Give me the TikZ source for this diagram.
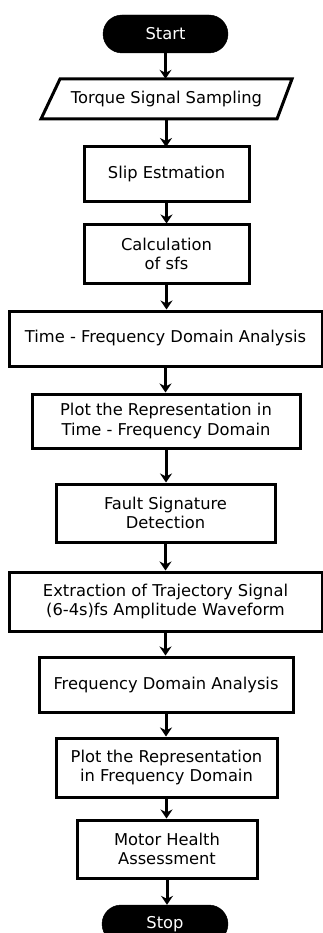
\documentclass[tikz,border=0pt]{standalone}
\usepackage{fontspec}
\setmainfont{DejaVu Sans}
\usetikzlibrary{arrows.meta}
\begin{document}
\begin{tikzpicture}[x=1pt,y=1pt,
  every node/.style={font=\fontsize{16.3}{19.5}\selectfont, text=black, inner sep=0pt, align=center},
  box/.style={draw, line width=3pt, rectangle},
  term/.style={fill=black, draw=black, rounded corners=19pt, text=white, minimum width=125pt, minimum height=38pt},
  flow/.style={line width=3pt, -{Stealth[length=9pt,width=12pt,inset=3pt]}}
]
\useasboundingbox (0,0) rectangle (323,-933);
\clip (0,0) rectangle (323,-933);
\node[term] (start) at (165.5,-34) {Start};
\node[minimum width=236pt, minimum height=40pt] (tss) at (166.5,-99) {Torque Signal Sampling};
\draw[line width=3pt, line join=miter] (41,-119) -- (60,-79) -- (292,-79) -- (277,-119) -- cycle;
\node[box, minimum width=165pt, minimum height=55pt] (slip) at (166.5,-174.5) {Slip Estmation};
\node[box, minimum width=165pt, minimum height=58pt] (calc) at (166.5,-254) {Calculation\\of sfs};
\node[box, minimum width=313pt, minimum height=55pt] (tf) at (165.5,-338.5) {Time - Frequency Domain Analysis};
\node[box, minimum width=268pt, minimum height=54pt] (ptf) at (166,-421) {Plot the Representation in\\Time - Frequency Domain};
\node[box, minimum width=219pt, minimum height=58pt] (fault) at (165.5,-513) {Fault Signature\\Detection};
\node[box, minimum width=313pt, minimum height=59pt] (ext) at (165.5,-601.5) {Extraction of Trajectory Signal\\(6-4s)fs Amplitude Waveform};
\node[box, minimum width=254pt, minimum height=55pt] (fda) at (166,-684.5) {Frequency Domain Analysis};
\node[box, minimum width=221pt, minimum height=59pt] (pfd) at (166.5,-767.5) {Plot the Representation\\in Frequency Domain};
\node[box, minimum width=180pt, minimum height=58pt] (motor) at (167,-849) {Motor Health\\Assessment};
\node[term, minimum width=126pt] (stop) at (165,-924) {\raisebox{4pt}{Stop}};
\draw[flow] (start.south) -- (start.south |- tss.north);
\draw[flow] (tss.south -| 166,0) -- (166,-147);
\draw[flow] (slip.south) -- (calc.north);
\draw[flow] (calc.south) -- (calc.south |- tf.north);
\draw[flow] (tf.south) -- (tf.south |- ptf.north);
\draw[flow] (ptf.south) -- (ptf.south |- fault.north);
\draw[flow] (fault.south) -- (fault.south |- ext.north);
\draw[flow] (ext.south) -- (ext.south |- fda.north);
\draw[flow] (fda.south) -- (fda.south |- pfd.north);
\draw[flow] (pfd.south) -- (pfd.south |- motor.north);
\draw[flow] (motor.south) -- (motor.south |- stop.north);
\end{tikzpicture}
\end{document}
